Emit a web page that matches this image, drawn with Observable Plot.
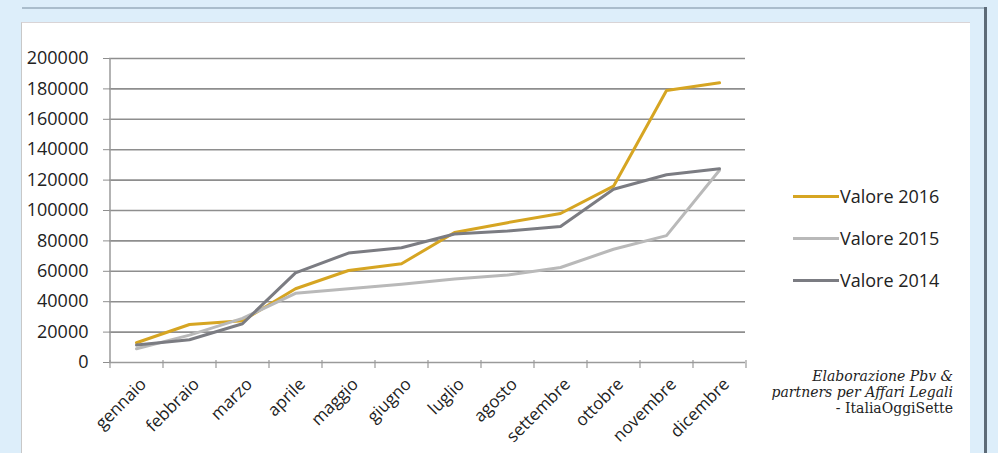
<!DOCTYPE html>
<html>
<head>
<meta charset="utf-8">
<script src="https://cdn.jsdelivr.net/npm/d3@7"></script>
<script src="https://cdn.jsdelivr.net/npm/@observablehq/plot@0.6"></script>
<style>
  html, body { margin: 0; padding: 0; }
  #wrap { position: relative; width: 998px; height: 453px; background: #ddeefa; overflow: hidden; font-family: "Open Sans", sans-serif; }
  #topline { position: absolute; left: 22px; top: 7px; width: 964px; height: 2px; background: #aabdcc; }
  #rightline { position: absolute; left: 984px; top: 7px; width: 3px; height: 446px; background: #5d6b78; }
  #panel { position: absolute; left: 21px; top: 22px; width: 949px; height: 440px; background: #ffffff; border-top: 1px solid #d9d4d6; border-left: 1px solid #c8c8c8; box-sizing: border-box; }
  #chart { position: absolute; left: 0; top: 0; }
  #legend { position: absolute; left: 793px; top: 0; }
  .row { position: absolute; left: 0; height: 24px; display: flex; align-items: center; white-space: nowrap; font-size: 18px; color: #222; }
  .sw { width: 46px; height: 3px; margin-right: 1px; }
  #caption { position: absolute; right: 45px; top: 368px; text-align: right; font-family: "DejaVu Serif", serif; font-size: 14px; line-height: 16px; color: #222; }
</style>
</head>
<body>
<div id="wrap">
  <div id="topline"></div>
  <div id="panel"></div>
  <div id="rightline"></div>
  <div id="chart"></div>
  <div id="legend"></div>
  <div id="caption"><i>Elaborazione Pbv &amp;</i><br><i>partners per Affari Legali</i><br>- ItaliaOggiSette</div>
</div>
<script>
const months = ["gennaio","febbraio","marzo","aprile","maggio","giugno","luglio","agosto","settembre","ottobre","novembre","dicembre"];
const valore2016 = [13000, 25000, 27500, 48500, 60500, 65000, 85500, 92000, 98000, 116000, 179000, 184000];
const valore2015 = [9000, 18000, 29000, 45500, 48500, 51500, 55000, 57500, 62500, 74500, 83500, 126500];
const valore2014 = [11500, 15000, 25500, 59000, 72000, 75500, 84500, 86500, 89500, 114000, 123500, 127500];
const seriesNames = ["Valore 2016", "Valore 2015", "Valore 2014"];
const seriesColors = ["#d6a522", "#b9b9b9", "#7b7c82"];
const yTicks = [0, 20000, 40000, 60000, 80000, 100000, 120000, 140000, 160000, 180000, 200000];

const seriesValues = [valore2016, valore2015, valore2014];
const data = [];
seriesNames.forEach((name, s) => months.forEach((m, i) => data.push({serie: name, mese: m, valore: seriesValues[s][i]})));

const W = 998, H = 453;
const mL = 109, mR = 253, mT = 58, mB = 91;
const step = (W - mL - mR) / months.length;

const chart = Plot.plot({
  width: W,
  height: H,
  marginLeft: mL,
  marginRight: mR,
  marginTop: mT,
  marginBottom: mB,
  style: { background: "transparent", fontFamily: "Open Sans, sans-serif", color: "#222" },
  x: { type: "point", domain: months, padding: 0.5 },
  y: { domain: [0, 200000] },
  color: { domain: seriesNames, range: seriesColors },
  marks: [
    Plot.ruleY(yTicks.filter(d => d > 0), { stroke: "#8e8e8e", strokeWidth: 1.6 }),
    Plot.axisY({ ticks: yTicks, tickSize: 6, tickPadding: 15, tickFormat: d3.format("d"), fontSize: 18, label: null, stroke: "#8e8e8e" }),
    Plot.ruleX([0], { x: () => months[0], dx: -step / 2, stroke: "#9a9a9a", strokeWidth: 1.5 }),
    Plot.ruleY([0], { stroke: "#9a9a9a", strokeWidth: 1.5 }),
    Plot.ruleX(months, { x: d => d, dx: -step / 2, y1: 0, y2: 0, insetTop: -2, insetBottom: -6, stroke: "#9a9a9a", strokeWidth: 1.2 }),
    Plot.ruleX([months[months.length - 1]], { x: d => d, dx: step / 2, y1: 0, y2: 0, insetTop: -2, insetBottom: -6, stroke: "#9a9a9a", strokeWidth: 1.2 }),
    Plot.axisX({ tickSize: 0, tickRotate: -45, tickPadding: 19, dx: 7, fontSize: 17, label: null }),
    Plot.line(data, { x: "mese", y: "valore", z: "serie", stroke: "serie", strokeWidth: 3, strokeLinejoin: "round" })
  ]
});
document.getElementById("chart").appendChild(chart);

const legend = document.getElementById("legend");
const legendTops = [184, 226, 268];
seriesNames.forEach((name, i) => {
  const row = document.createElement("div");
  row.className = "row";
  row.style.top = legendTops[i] + "px";
  const sw = document.createElement("span");
  sw.className = "sw";
  sw.style.background = seriesColors[i];
  row.appendChild(sw);
  row.appendChild(document.createTextNode(name));
  legend.appendChild(row);
});
</script>
</body>
</html>
